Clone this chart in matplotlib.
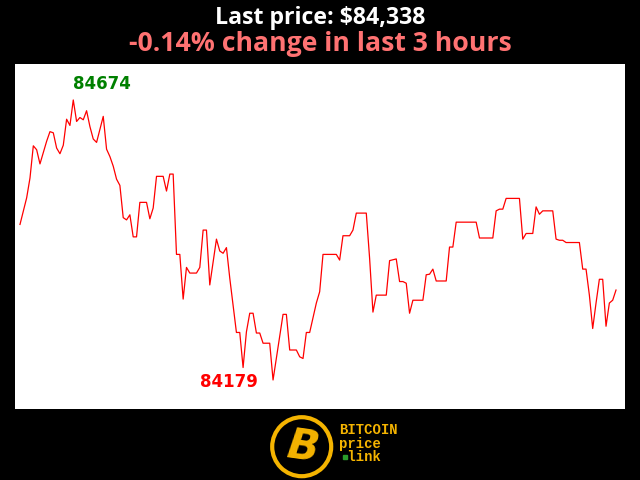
import matplotlib
matplotlib.use('Agg')
import matplotlib.pyplot as plt
from matplotlib.patches import Circle

# minute index (over last 3 hours) and price at each vertex of the line
minutes = [0, 2, 3, 4, 5, 6, 8, 9, 10, 11, 12, 13, 14, 15, 16, 17, 18, 19, 20, 21,
           22, 23, 25, 26, 27, 28, 29, 30, 31, 32, 33, 34, 35, 36, 38, 39, 40, 41, 43, 44,
           45, 46, 47, 48, 49, 50, 51, 53, 54, 55, 56, 57, 59, 60, 61, 62, 63, 65, 66, 67,
           68, 69, 70, 71, 72, 73, 75, 76, 78, 79, 80, 81, 83, 84, 85, 86, 87, 89, 90, 91,
           95, 96, 97, 99, 100, 101, 104, 105, 106, 107, 110, 111, 113, 114, 115, 116, 117, 118, 121, 122,
           123, 124, 125, 128, 129, 130, 131, 137, 138, 142, 143, 144, 145, 146, 150, 151, 152, 154, 155, 156,
           157, 160, 161, 162, 163, 164, 168, 169, 170, 171, 172, 173, 174, 175, 176, 177, 178, 179]
prices = [84454, 84501, 84536, 84593, 84586, 84561, 84601, 84618, 84616, 84589, 84579, 84594, 84640, 84629, 84674, 84636, 84643, 84639, 84655, 84627,
          84605, 84599, 84645, 84587, 84574, 84557, 84534, 84523, 84466, 84462, 84471, 84432, 84432, 84493, 84493, 84464, 84483, 84539, 84539, 84513,
          84543, 84543, 84401, 84401, 84322, 84378, 84368, 84368, 84378, 84444, 84444, 84347, 84428, 84407, 84403, 84413, 84359, 84263, 84263, 84201,
          84264, 84297, 84297, 84262, 84262, 84244, 84244, 84179, 84257, 84295, 84295, 84232, 84232, 84220, 84217, 84263, 84263, 84315, 84335, 84401,
          84401, 84391, 84434, 84434, 84444, 84474, 84474, 84394, 84299, 84329, 84329, 84390, 84393, 84353, 84353, 84350, 84297, 84320, 84320, 84365,
          84366, 84375, 84354, 84354, 84414, 84414, 84458, 84458, 84430, 84430, 84478, 84481, 84481, 84500, 84500, 84428, 84438, 84438, 84485, 84472,
          84478, 84478, 84428, 84426, 84426, 84422, 84422, 84375, 84375, 84329, 84270, 84315, 84357, 84357, 84274, 84315, 84320, 84338]

last_price = 84338
change_pct = -0.14

fig = plt.figure(figsize=(6.4, 4.8), dpi=100, facecolor='black')
ax = fig.add_axes([15 / 640, 71 / 480, 610 / 640, 345 / 480])
ax.set_facecolor('white')
ax.plot(minutes, prices, color='red', lw=0.9)
ax.set_xlim(-1.5, 181.7)
ax.set_ylim(84127.7, 84737.6)
ax.set_xticks([])
ax.set_yticks([])
for s in ax.spines.values():
    s.set_visible(False)

# max / min labels
i_max = prices.index(max(prices))
i_min = prices.index(min(prices))
ax.annotate(str(max(prices)), (minutes[i_max], prices[i_max]), xytext=(29, 16),
            textcoords='offset pixels', ha='center', va='center',
            color='green', fontsize=12, fontweight='bold', family='DejaVu Sans')
ax.annotate(str(min(prices)), (minutes[i_min], prices[i_min]), xytext=(-44, -2),
            textcoords='offset pixels', ha='center', va='center',
            color='red', fontsize=12, fontweight='bold', family='DejaVu Sans')

# titles
fig.text(0.5, 1 - 24 / 480, f'Last price: ${last_price:,}', ha='center', va='baseline',
         color='white', fontsize=16.7, fontweight='bold', family='Open Sans')
fig.text(0.5, 1 - 51 / 480, f'{change_pct:.2f}% change in last 3 hours', ha='center', va='baseline',
         color='#ff7272', fontsize=19.2, fontweight='bold', family='Open Sans')

# logo
gold = '#f5b400'
lax = fig.add_axes([0, 0, 1, 1], facecolor='none')
lax.set_xlim(0, 640)
lax.set_ylim(480, 0)
lax.axis('off')
lax.add_patch(Circle((301.7, 446.7), 29.5, fill=False, ec=gold, lw=3))
lax.text(303, 447, 'B', ha='center', va='center', color=gold, fontsize=30,
         fontweight='heavy', family='DejaVu Sans', rotation=-8, style='italic')
for txt, yy in [('BITCOIN', 430), ('price', 444), (' link', 457)]:
    lax.text(339, yy, txt, ha='left', va='center', color=gold, fontsize=10,
             fontweight='bold', family='Liberation Mono')
lax.plot([345], [457], 's', color='#2a9d2a', ms=2.5)

fig.savefig('out.png', dpi=100, facecolor='black')
